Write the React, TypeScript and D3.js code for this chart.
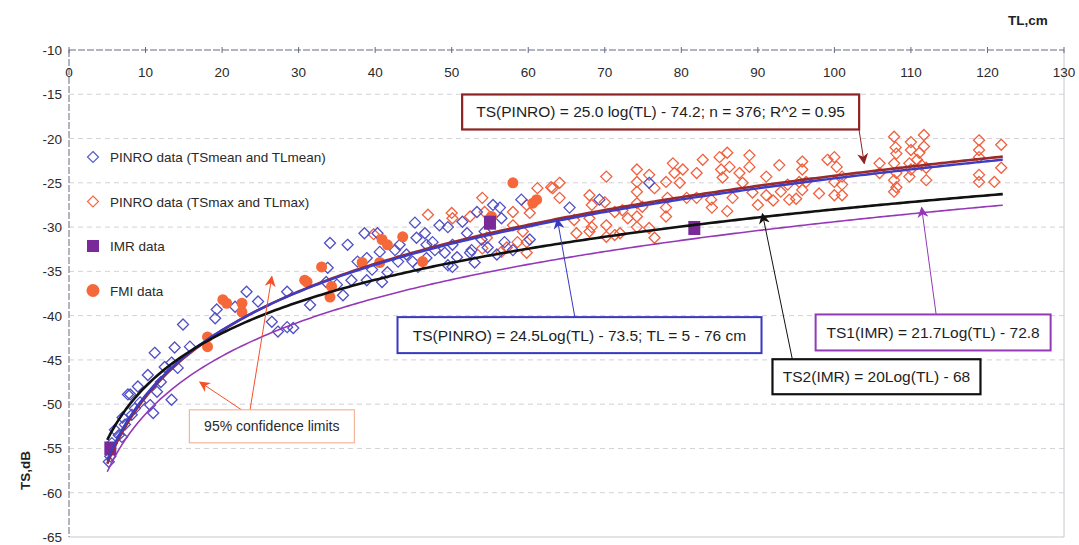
import * as d3 from "d3";

// ---- data ----
const xTicks = [0, 10, 20, 30, 40, 50, 60, 70, 80, 90, 100, 110, 120, 130];
const yTicks = [-10, -15, -20, -25, -30, -35, -40, -45, -50, -55, -60, -65];

// PINRO data (TSmean and TLmean): [TL, TS]
const pinroMean = [
  [5.2, -56.5], [5.4, -55.9], [5.6, -54.4], [6.0, -52.9], [6.5, -53.5], [6.9, -53.7],
  [7.0, -51.5], [7.3, -52.3], [7.7, -48.9], [8.0, -48.9], [8.2, -51.2], [8.6, -50.5],
  [9.0, -48.0], [9.3, -49.8], [10.3, -46.7], [10.6, -50.1], [11.0, -51.0], [11.2, -44.2],
  [11.5, -48.6], [12.0, -47.5], [12.5, -45.8], [13.4, -45.3], [13.4, -49.5], [13.8, -43.6],
  [14.2, -45.9], [14.9, -41.0], [15.8, -43.5], [19.1, -40.3], [19.3, -39.3], [21.7, -39.0],
  [23.2, -37.3], [24.7, -38.4], [26.5, -40.7], [27.3, -41.8], [28.5, -37.3], [28.5, -41.3],
  [29.3, -41.4], [31.5, -38.8], [33.6, -36.2], [33.8, -34.6], [34.1, -31.8], [35.0, -36.5],
  [35.8, -37.7], [36.4, -32.0], [36.9, -36.0], [37.7, -33.9], [38.6, -30.7], [38.9, -33.5],
  [38.9, -36.0], [39.6, -34.8], [40.3, -30.7], [40.6, -32.8], [40.9, -36.2], [41.6, -35.1],
  [42.6, -32.6], [43.0, -33.9], [43.2, -32.0], [44.1, -33.1], [44.9, -33.9], [45.2, -29.5],
  [45.4, -31.2], [45.6, -34.5], [46.5, -30.7], [46.7, -32.0], [46.7, -33.5], [47.5, -31.7],
  [47.8, -32.6], [48.4, -29.8], [49.1, -32.9], [49.5, -30.0], [49.5, -34.3], [50.1, -32.0],
  [50.1, -34.5], [50.7, -33.4], [51.4, -29.4], [52.0, -30.7], [52.4, -32.9], [52.6, -32.6],
  [53.0, -34.0], [53.3, -28.3], [53.9, -31.4], [54.3, -30.5], [54.7, -32.3], [55.4, -27.5],
  [55.9, -33.1], [56.3, -27.8], [56.5, -29.0], [56.9, -31.7], [58.0, -32.6], [59.1, -26.9],
  [60.2, -31.4], [65.4, -27.8], [69.3, -26.9], [75.8, -25.0],
];

// PINRO data (TSmax and TLmax): [TL, TS]
const pinroMax = [
  [39.8, -30.8], [46.9, -28.6], [50.0, -28.4], [50.1, -29.0], [52.4, -28.8], [54.0, -26.7],
  [54.0, -32.4], [54.3, -28.3], [54.6, -31.2], [56.5, -32.8], [57.2, -32.3], [58.0, -28.3],
  [58.0, -29.8], [58.6, -31.7], [59.3, -30.5], [59.8, -27.5], [59.8, -31.7], [59.8, -32.9],
  [60.2, -28.4], [61.2, -25.6], [63.0, -25.5], [63.2, -25.6], [64.1, -25.0], [64.1, -26.7],
  [66.0, -29.2], [66.3, -30.7], [68.0, -26.4], [68.3, -27.5], [68.0, -29.0], [68.3, -30.0],
  [68.0, -30.5], [70.0, -27.2], [70.2, -24.3], [70.2, -29.8], [70.2, -31.1], [71.3, -28.3],
  [71.3, -30.9], [72.0, -30.7], [72.3, -28.1], [73.0, -29.0], [74.2, -23.5], [74.2, -24.9],
  [74.2, -26.0], [74.2, -27.3], [74.2, -28.8], [74.2, -30.0], [74.9, -27.7], [75.8, -24.1],
  [75.8, -30.1], [76.5, -25.6], [76.5, -31.2], [78.0, -24.9], [78.2, -26.7], [78.0, -27.8],
  [78.0, -28.8], [78.9, -22.8], [79.1, -23.9], [79.8, -25.0], [80.2, -23.5], [80.7, -26.7],
  [82.0, -23.9], [82.0, -26.7], [82.8, -22.4], [83.9, -26.9], [84.0, -27.8], [85.0, -22.1],
  [85.2, -23.5], [85.4, -24.4], [86.0, -21.6], [86.0, -28.2], [86.3, -23.2], [86.7, -26.7],
  [87.6, -23.9], [88.0, -25.0], [88.9, -21.9], [88.9, -23.2], [89.3, -26.1], [90.0, -27.5],
  [91.1, -24.3], [91.1, -26.4], [92.0, -27.0], [92.8, -23.0], [93.0, -26.0], [93.9, -25.2],
  [94.1, -26.9], [95.0, -26.8], [95.4, -24.9], [95.8, -22.6], [95.8, -23.5], [95.8, -25.8],
  [96.3, -24.9], [98.0, -26.2], [99.1, -22.4], [100.0, -22.1], [100.3, -23.2], [100.0, -24.9],
  [101.0, -24.3], [101.0, -25.2], [100.0, -26.4], [101.0, -26.4], [105.9, -22.8], [105.9, -23.9],
  [107.8, -19.8], [108.0, -21.0], [108.1, -21.7], [107.8, -22.8], [108.1, -23.9], [107.8, -24.7],
  [108.1, -25.5], [107.8, -26.0], [110.0, -20.4], [110.0, -21.3], [109.8, -22.8], [110.0, -23.5],
  [109.8, -24.3], [111.1, -21.6], [110.8, -22.4], [111.4, -23.0], [111.7, -19.6], [111.7, -20.9],
  [112.0, -23.3], [112.0, -24.7], [118.9, -20.2], [118.9, -21.3], [118.9, -22.1], [118.9, -24.1],
  [118.9, -24.9], [121.8, -20.7], [121.8, -23.3], [120.9, -24.9],
];

// IMR data
const imrData = [[5.4, -55.0], [55.0, -29.5], [81.7, -30.1]];

// FMI data
const fmiData = [
  [18.1, -42.4], [18.1, -43.5], [20.1, -38.2], [20.6, -38.6], [22.6, -38.6], [22.6, -39.6],
  [30.8, -36.0], [31.1, -36.2], [33.0, -34.5], [34.1, -37.9], [34.3, -36.7], [38.3, -34.0],
  [40.6, -34.0], [40.9, -31.4], [41.6, -32.0], [43.6, -31.1], [46.2, -33.9], [55.2, -28.8],
  [58.0, -25.0], [60.6, -27.3], [61.1, -26.9],
];

// fitted relations TS = a*log10(TL) + b (from the equations printed on the chart)
const fits = [
  { id: "pinro2", a: 25.0, b: -74.2, color: "#9b2a2a", width: 2.6 },
  { id: "pinro1", a: 24.5, b: -73.5, color: "#3c3cc4", width: 2.4 },
  { id: "imr2", a: 20, b: -68, color: "#111111", width: 2.6 },
  { id: "imr1", a: 21.7, b: -72.8, color: "#9438b8", width: 1.6 },
];
const fitRange = [5, 122];

const legendItems = [
  { label: "PINRO data (TSmean and TLmean)", kind: "diamond", color: "#5a5ac8" },
  { label: "PINRO data (TSmax and TLmax)", kind: "diamond", color: "#f06a4a" },
  { label: "IMR data", kind: "square", color: "#7a2a98" },
  { label: "FMI data", kind: "circle", color: "#f4683a" },
];

// annotation boxes: center in data units, arrows from box edge to a data point
const notes = [
  { text: "TS(PINRO) = 25.0 log(TL) - 74.2; n = 376; R^2 = 0.95", cx: 77.3, cy: -17.0, w: 397, h: 35,
    color: "#8e2323", bw: 2.2, from: [103.2, -18.9], to: [103.9, -22.8] },
  { text: "TS(PINRO) = 24.5Log(TL) - 73.5; TL = 5 - 76 cm", cx: 66.7, cy: -42.2, w: 364, h: 36,
    color: "#3838c0", bw: 2, from: [66.1, -40.2], to: [63.8, -29.1] },
  { text: "TS1(IMR) = 21.7Log(TL) - 72.8", cx: 112.9, cy: -41.9, w: 235, h: 36,
    color: "#9438b8", bw: 2, from: [113.3, -39.9], to: [111.4, -27.8] },
  { text: "TS2(IMR) = 20Log(TL) - 68", cx: 105.5, cy: -46.9, w: 208, h: 35,
    color: "#111111", bw: 2.2, from: [94.5, -44.9], to: [90.6, -28.5] },
];
const ciNote = { text: "95% confidence limits", cx: 26.5, cy: -52.5, w: 165, h: 33, color: "#f2a88a",
  arrows: [ { from: [23.0, -50.9], to: [17.1, -47.5] }, { from: [23.6, -50.9], to: [26.5, -35.6] } ] };

export default function App() {
  const width = 1079;
  const height = 545;
  const x = d3.scaleLinear().domain([0, 130]).range([69, 1064]);
  const y = d3.scaleLinear().domain([-10, -65]).range([50, 537]);

  const fitLine = d3
    .line<number>()
    .x((t) => x(t))
    .y((t) => y(0));

  const tlSamples = d3.range(fitRange[0], fitRange[1] + 0.001, 0.5);

  const diamond = (cx: number, cy: number, r: number) =>
    `M${cx},${cy - r}L${cx + r},${cy}L${cx},${cy + r}L${cx - r},${cy}Z`;

  const font = "Arial, 'Liberation Sans', Helvetica, sans-serif";

  return (
    <svg
      width={width}
      height={height}
      style={{ position: "absolute", left: 0, top: 0, background: "#fff" }}
      fontFamily={font}
    >
      <defs>
        {["#8e2323", "#3838c0", "#9438b8", "#111111", "#f4502a"].map((c) => (
          <marker
            key={c}
            id={"ah" + c.slice(1)}
            viewBox="0 0 10 10"
            refX="9"
            refY="5"
            markerWidth="11"
            markerHeight="11"
            markerUnits="userSpaceOnUse"
            orient="auto"
          >
            <path d="M0,0 L10,5 L0,10 L3,5 Z" fill={c} />
          </marker>
        ))}
      </defs>

      {/* grid */}
      {yTicks.slice(1, -1).map((t) => (
        <line key={t} x1={x(0)} x2={x(130)} y1={y(t)} y2={y(t)} stroke="#d2d2d8" strokeDasharray="5,4" />
      ))}
      <line x1={x(130)} x2={x(130)} y1={y(-10)} y2={y(-65)} stroke="#c8c8d0" />
      <line x1={x(0)} x2={x(130)} y1={y(-65)} y2={y(-65)} stroke="#c8c8d0" />

      {/* axes */}
      <line x1={x(0)} x2={x(130)} y1={y(-10)} y2={y(-10)} stroke="#666a80" strokeDasharray="7,2" />
      <line x1={x(0)} x2={x(0)} y1={y(-10)} y2={y(-65)} stroke="#666a80" strokeDasharray="7,2" />
      {xTicks.map((t) => (
        <g key={t}>
          <line x1={x(t)} x2={x(t)} y1={y(-10) - 3} y2={y(-10) + 3} stroke="#666a80" />
          <text x={x(t)} y={y(-10) + 27} textAnchor="middle" fontSize="13.5" fill="#2a2a2a">
            {t}
          </text>
        </g>
      ))}
      {yTicks.map((t) => (
        <text key={t} x={x(0) - 7} y={y(t) + 5} textAnchor="end" fontSize="13.5" fill="#2a2a2a">
          {t}
        </text>
      ))}
      <text x={1028} y={25} textAnchor="middle" fontSize="13.5" fontWeight="bold" fill="#222">
        TL,cm
      </text>
      <text
        transform={`translate(30, ${y(-57.5)}) rotate(-90)`}
        textAnchor="middle"
        fontSize="13.5"
        fontWeight="bold"
        fill="#222"
      >
        TS,dB
      </text>

      {/* data points */}
      {pinroMax.map(([tl, ts], i) => (
        <path key={"mx" + i} d={diamond(x(tl), y(ts), 5.5)} fill="none" stroke="#f0603e" strokeWidth="1.3" />
      ))}
      {pinroMean.map(([tl, ts], i) => (
        <path key={"mn" + i} d={diamond(x(tl), y(ts), 5.5)} fill="none" stroke="#5050c4" strokeWidth="1.3" />
      ))}
      {fmiData.map(([tl, ts], i) => (
        <circle key={"f" + i} cx={x(tl)} cy={y(ts)} r={5.5} fill="#f4683a" />
      ))}
      {imrData.map(([tl, ts], i) => (
        <rect key={"i" + i} x={x(tl) - 6} y={y(ts) - 7} width={12} height={14} fill="#7a2a98" />
      ))}

      {/* fitted curves */}
      {fits.map((f) => (
        <path
          key={f.id}
          d={
            d3
              .line<number>()
              .x((t) => x(t))
              .y((t) => y(f.a * Math.log10(t) + f.b))
              .curve(d3.curveLinear)(tlSamples) || ""
          }
          fill="none"
          stroke={f.color}
          strokeWidth={f.width}
        />
      ))}

      {/* legend */}
      {legendItems.map((l, i) => {
        const ly = 157 + i * 44.5;
        const mx = 93;
        return (
          <g key={l.label}>
            {l.kind === "diamond" && (
              <path d={diamond(mx, ly, 5.5)} fill="none" stroke={l.color} strokeWidth="1.2" />
            )}
            {l.kind === "square" && <rect x={mx - 6} y={ly - 6} width={12} height={12} fill={l.color} />}
            {l.kind === "circle" && <circle cx={mx} cy={ly} r={6.5} fill={l.color} />}
            <text x={110} y={ly + 5} fontSize="13.5" fill="#2a2a2a">
              {l.label}
            </text>
          </g>
        );
      })}

      {/* annotation boxes */}
      {notes.map((n) => (
        <g key={n.text}>
          <line
            x1={x(n.from[0])}
            y1={y(n.from[1])}
            x2={x(n.to[0])}
            y2={y(n.to[1])}
            stroke={n.color}
            strokeWidth="1"
            markerEnd={`url(#ah${n.color.slice(1)})`}
          />
          <rect
            x={x(n.cx) - n.w / 2}
            y={y(n.cy) - n.h / 2}
            width={n.w}
            height={n.h}
            fill="#fff"
            stroke={n.color}
            strokeWidth={n.bw}
          />
          <text x={x(n.cx)} y={y(n.cy) + 5.5} textAnchor="middle" fontSize="15.5" fill="#1e1e1e">
            {n.text}
          </text>
        </g>
      ))}

      {/* confidence limit label */}
      {ciNote.arrows.map((a, i) => (
        <line
          key={i}
          x1={x(a.from[0])}
          y1={y(a.from[1])}
          x2={x(a.to[0])}
          y2={y(a.to[1])}
          stroke="#f4502a"
          strokeWidth="1"
          markerEnd="url(#ahf4502a)"
        />
      ))}
      <rect
        x={x(ciNote.cx) - ciNote.w / 2}
        y={y(ciNote.cy) - ciNote.h / 2}
        width={ciNote.w}
        height={ciNote.h}
        fill="#fff"
        stroke={ciNote.color}
        strokeWidth="1"
      />
      <text x={x(ciNote.cx)} y={y(ciNote.cy) + 5} textAnchor="middle" fontSize="14" fill="#2a2a2a">
        {ciNote.text}
      </text>
    </svg>
  );
}
